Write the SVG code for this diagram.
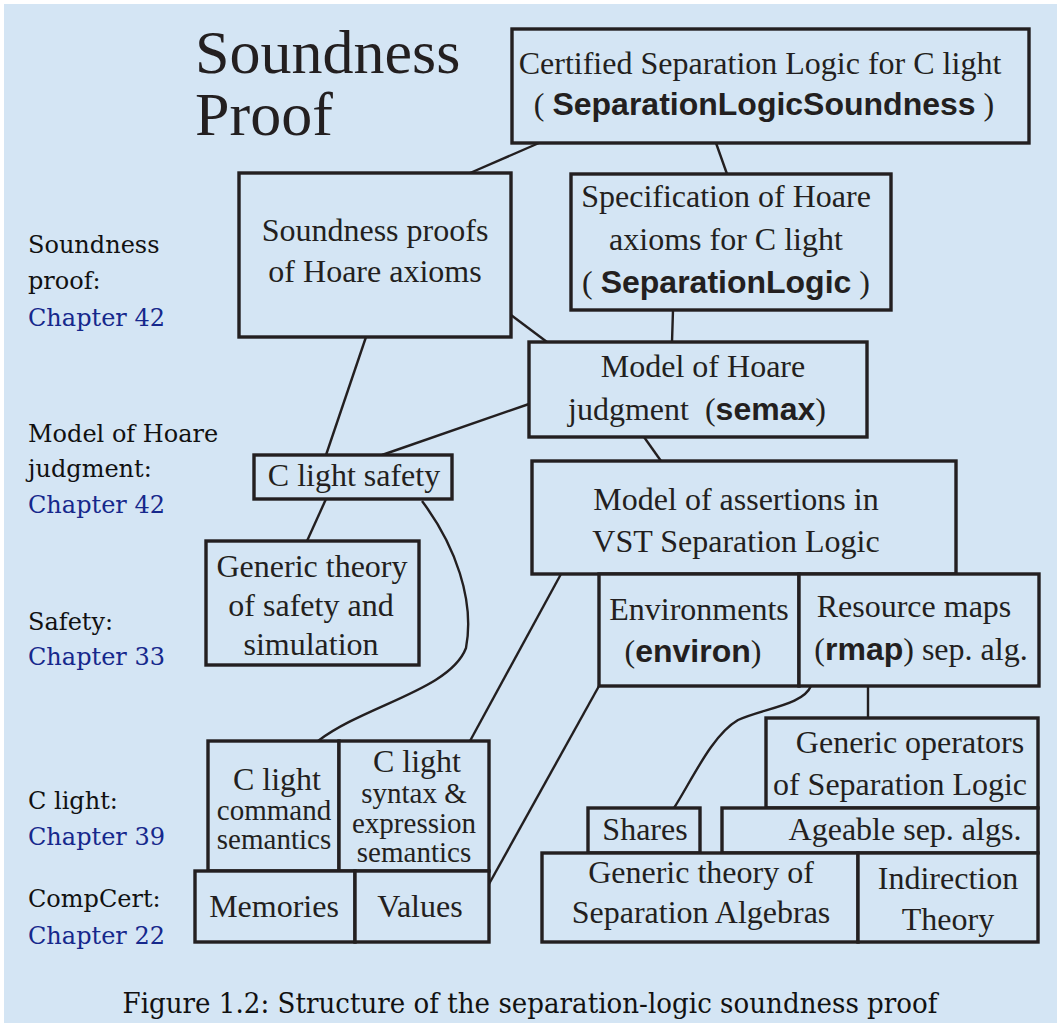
<svg xmlns="http://www.w3.org/2000/svg" width="1061" height="1027" viewBox="0 0 1061 1027">
<style>
.box{fill:#d4e5f4;stroke:#231f20;stroke-width:3.4}
.t{font-family:"Liberation Serif","Times New Roman",serif;font-size:32px;fill:#231f20;text-anchor:middle}
.s{font-size:29px}
.b{font-family:"Liberation Sans",Arial,sans-serif;font-weight:bold}
.side{font-family:"DejaVu Serif",serif;font-size:24px;fill:#111}
.ch{fill:#16288c}
.c{fill:none;stroke:#231f20;stroke-width:2.4}
</style>
<rect x="0" y="0" width="1061" height="1027" fill="#ffffff"/>
<rect x="4" y="4" width="1053" height="1019" fill="#d4e5f4"/>

<g id="title">
<text x="195" y="73" style="font-family:'Liberation Serif',serif;font-size:62px;fill:#231f20">Soundness</text>
<text x="195" y="135" style="font-family:'Liberation Serif',serif;font-size:62px;fill:#231f20">Proof</text>
</g>

<g id="side-labels" class="side">
<text x="28" y="253">Soundness</text>
<text x="28" y="289">proof:</text>
<text x="28" y="326" class="ch">Chapter 42</text>
<text x="28" y="442">Model of Hoare</text>
<text x="28" y="477">judgment:</text>
<text x="28" y="513" class="ch">Chapter 42</text>
<text x="28" y="630">Safety:</text>
<text x="28" y="665" class="ch">Chapter 33</text>
<text x="28" y="809">C light:</text>
<text x="28" y="845" class="ch">Chapter 39</text>
<text x="28" y="907">CompCert:</text>
<text x="28" y="944" class="ch">Chapter 22</text>
</g>

<g id="connectors">
<line class="c" x1="539" y1="143" x2="470" y2="173"/>
<line class="c" x1="716" y1="143" x2="727" y2="174"/>
<line class="c" x1="673" y1="310" x2="672" y2="342"/>
<line class="c" x1="511" y1="315" x2="547" y2="342"/>
<line class="c" x1="529" y1="404" x2="382" y2="455"/>
<line class="c" x1="366" y1="337" x2="326" y2="455"/>
<line class="c" x1="326" y1="499" x2="307" y2="541"/>
<path class="c" d="M422,501 C455,545 475,600 466,648 C450,690 365,705 318,741"/>
<line class="c" x1="644" y1="437" x2="661" y2="461"/>
<line class="c" x1="561" y1="574" x2="470" y2="741"/>
<line class="c" x1="599" y1="686" x2="489" y2="884"/>
<path class="c" d="M811,686 C803,705 765,708 738,720 C712,735 692,780 674,808"/>
<line class="c" x1="868" y1="686" x2="868" y2="718"/>
</g>

<g id="certified">
<rect class="box" x="512" y="29" width="517" height="114"/>
<text class="t" x="760" y="74">Certified Separation Logic for C light</text>
<text class="t" x="764" y="115">( <tspan class="b">SeparationLogicSoundness</tspan> )</text>
</g>

<g id="soundness-proofs">
<rect class="box" x="239" y="173" width="272" height="164"/>
<text class="t" x="375" y="241">Soundness proofs</text>
<text class="t" x="375" y="282">of Hoare axioms</text>
</g>

<g id="specification">
<rect class="box" x="571" y="174" width="320" height="136"/>
<text class="t" x="726" y="207">Specification of Hoare</text>
<text class="t" x="726" y="250">axioms for C light</text>
<text class="t" x="726" y="293">( <tspan class="b">SeparationLogic</tspan> )</text>
</g>

<g id="semax">
<rect class="box" x="529" y="342" width="338" height="95"/>
<text class="t" x="703" y="377">Model of Hoare</text>
<text class="t" x="697" y="420">judgment<tspan dx="16">(</tspan><tspan class="b">semax</tspan>)</text>
</g>

<g id="clight-safety">
<rect class="box" x="254" y="455" width="198" height="44"/>
<text class="t" x="354" y="486">C light safety</text>
</g>

<g id="safety-theory">
<rect class="box" x="206" y="541" width="213" height="124"/>
<text class="t" x="312" y="577">Generic theory</text>
<text class="t" x="311" y="616">of safety and</text>
<text class="t" x="311" y="655">simulation</text>
</g>

<g id="assertions">
<rect class="box" x="532" y="461" width="424" height="113"/>
<text class="t" x="736" y="510">Model of assertions in</text>
<text class="t" x="736" y="552">VST Separation Logic</text>
</g>

<g id="environ">
<rect class="box" x="599" y="574" width="200" height="112"/>
<text class="t" x="699" y="620">Environments</text>
<text class="t" x="693" y="662">(<tspan class="b">environ</tspan>)</text>
</g>

<g id="rmap">
<rect class="box" x="799" y="574" width="240" height="112"/>
<text class="t" x="914" y="617">Resource maps</text>
<text class="t" x="921" y="660">(<tspan class="b">rmap</tspan>) sep. alg.</text>
</g>

<g id="generic-operators">
<rect class="box" x="766" y="718" width="272" height="90"/>
<text class="t" x="910" y="753">Generic operators</text>
<text class="t" x="900" y="795">of Separation Logic</text>
</g>

<g id="shares">
<rect class="box" x="588" y="808" width="112" height="45"/>
<text class="t" x="645" y="840">Shares</text>
</g>

<g id="ageable">
<rect class="box" x="722" y="808" width="316" height="45"/>
<text class="t" x="905" y="840">Ageable sep. algs.</text>
</g>

<g id="sep-algebras">
<rect class="box" x="542" y="853" width="316" height="89"/>
<text class="t" x="701" y="883">Generic theory of</text>
<text class="t" x="701" y="923">Separation Algebras</text>
</g>

<g id="indirection">
<rect class="box" x="858" y="853" width="180" height="89"/>
<text class="t" x="948" y="889">Indirection</text>
<text class="t" x="948" y="930">Theory</text>
</g>

<g id="command-semantics">
<rect class="box" x="208" y="741" width="131" height="130"/>
<text class="t" x="277" y="790">C light</text>
<text class="t s" x="274" y="820">command</text>
<text class="t s" x="274" y="849">semantics</text>
</g>

<g id="syntax-semantics">
<rect class="box" x="339" y="741" width="150" height="130"/>
<text class="t" x="417" y="772">C light</text>
<text class="t s" x="414" y="803">syntax &amp;</text>
<text class="t s" x="414" y="833">expression</text>
<text class="t s" x="414" y="862">semantics</text>
</g>

<g id="memories">
<rect class="box" x="195" y="871" width="160" height="71"/>
<text class="t" x="274" y="917">Memories</text>
</g>

<g id="values">
<rect class="box" x="355" y="871" width="134" height="71"/>
<text class="t" x="420" y="917">Values</text>
</g>

<g id="caption">
<text x="530" y="1013" textLength="815" lengthAdjust="spacingAndGlyphs" style="font-family:'DejaVu Serif',serif;font-size:27px;fill:#111;text-anchor:middle">Figure 1.2: Structure of the separation-logic soundness proof</text>
</g>
</svg>
